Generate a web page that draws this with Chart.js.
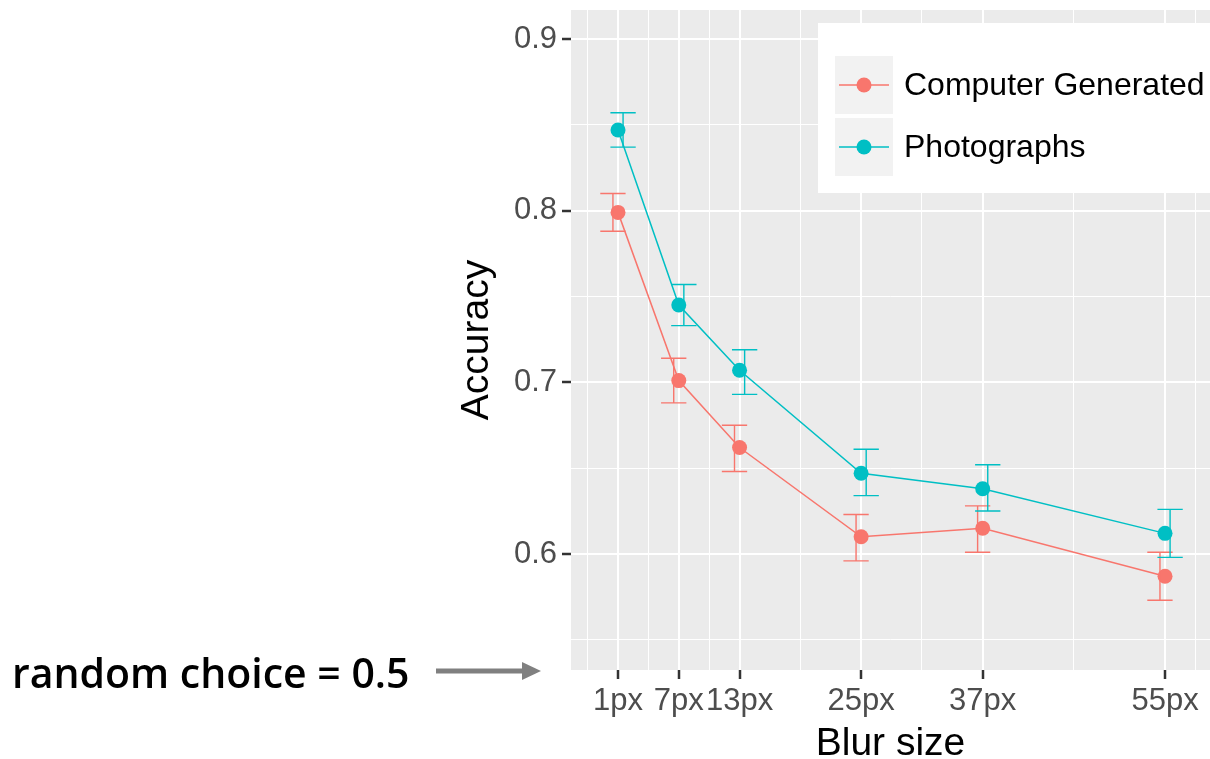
<!DOCTYPE html>
<html>
<head>
<meta charset="utf-8">
<script src="https://cdn.jsdelivr.net/npm/chart.js@4.4.1/dist/chart.umd.min.js"></script>
<style>
  html, body { margin: 0; padding: 0; background: #fff; overflow: hidden; }
  #wrap { position: relative; width: 1210px; height: 759px; }
  #plot { position: absolute; left: 0; top: 0; }
  #note {
    position: absolute; left: 12px; top: 644px;
    font-family: "Open Sans", "Noto Sans", sans-serif; font-weight: 600;
    font-size: 41px; line-height: 56px; color: #000; white-space: nowrap;
  }
  #arrow { position: absolute; left: 430px; top: 658px; }
</style>
</head>
<body>
<div id="wrap">
  <canvas id="plot" width="1210" height="759"></canvas>
  <div id="note">random choice = 0.5</div>
  <svg id="arrow" width="120" height="28">
    <line x1="6" y1="13" x2="94" y2="13" stroke="#808080" stroke-width="5"/>
    <polygon points="92,4 111,13 92,22" fill="#808080"/>
  </svg>
</div>
<script>
// blur sizes (px) on the x axis
var blurSizes = [1, 7, 13, 25, 37, 55];
var xTicks = [1, 7, 13, 25, 37, 55];
var xTickLabels = ['1px', '7px', '13px', '25px', '37px', '55px'];
var xMinor = [-2, 4, 10, 19, 31, 46, 58];
var yTicks = [0.6, 0.7, 0.8, 0.9];
var yMinor = [0.55, 0.65, 0.75, 0.85];

// Computer Generated: mean and error bar limits
var cgMean = [0.799, 0.701, 0.662, 0.610, 0.615, 0.587];
var cgLow = [0.788, 0.688, 0.648, 0.596, 0.601, 0.573];
var cgHigh = [0.810, 0.714, 0.675, 0.623, 0.628, 0.601];

// Photographs: mean and error bar limits
var photoMean = [0.847, 0.745, 0.707, 0.647, 0.638, 0.612];
var photoLow = [0.837, 0.733, 0.693, 0.634, 0.625, 0.598];
var photoHigh = [0.857, 0.757, 0.719, 0.661, 0.652, 0.626];

var RED = '#F8766D';
var TEAL = '#00BFC4';

function points(mean, low, high) {
    return blurSizes.map(function(b, i) {
        return {x: b, y: mean[i], lo: low[i], hi: high[i]};
    });
}

function isIn(list, v) {
    return list.some(function(t) { return Math.abs(t - v) < 1e-6; });
}

// keep the panel exactly where the axes say, no label padding
function noPad(scale) {
    scale.paddingTop = 0;
    scale.paddingBottom = 0;
    scale.paddingLeft = 0;
    scale.paddingRight = 0;
}

Chart.defaults.font.family = "'Liberation Sans', Arial, sans-serif";

// grey panel behind the grid
var panelBg = {
    id: 'panelBg',
    beforeDraw: function(chart) {
        var a = chart.chartArea;
        var ctx = chart.ctx;
        ctx.save();
        ctx.fillStyle = '#EBEBEB';
        ctx.fillRect(a.left, a.top, a.right - a.left, a.bottom - a.top);
        ctx.restore();
    }
};

// dodged error bars from each point's lo / hi
var errorBars = {
    id: 'errorBars',
    afterDatasetsDraw: function(chart) {
        var ctx = chart.ctx;
        var x = chart.scales.x;
        var y = chart.scales.y;
        chart.data.datasets.forEach(function(ds) {
            ctx.save();
            ctx.strokeStyle = ds.borderColor;
            ctx.lineWidth = 1.4;
            ds.data.forEach(function(p) {
                var cx = x.getPixelForValue(p.x + ds.dodge);
                var l = x.getPixelForValue(p.x + ds.dodge - 1.25);
                var r = x.getPixelForValue(p.x + ds.dodge + 1.25);
                var top = y.getPixelForValue(p.hi);
                var bot = y.getPixelForValue(p.lo);
                ctx.beginPath();
                ctx.moveTo(cx, top); ctx.lineTo(cx, bot);
                ctx.moveTo(l, top); ctx.lineTo(r, top);
                ctx.moveTo(l, bot); ctx.lineTo(r, bot);
                ctx.stroke();
            });
            ctx.restore();
        });
    }
};

// ggplot-like legend box inside the panel
var boxLegend = {
    id: 'boxLegend',
    afterDraw: function(chart) {
        var ctx = chart.ctx;
        ctx.save();
        ctx.fillStyle = '#FFFFFF';
        ctx.fillRect(818, 23, 400, 170);
        chart.data.datasets.forEach(function(ds, i) {
            var top = 56 + i * 62;
            var cy = top + 29;
            ctx.fillStyle = '#F2F2F2';
            ctx.fillRect(835, top, 58, 58);
            ctx.strokeStyle = ds.borderColor;
            ctx.lineWidth = 1.5;
            ctx.beginPath();
            ctx.moveTo(839, cy); ctx.lineTo(889, cy);
            ctx.stroke();
            ctx.fillStyle = ds.borderColor;
            ctx.beginPath();
            ctx.arc(864, cy, 7.5, 0, Math.PI * 2);
            ctx.fill();
            ctx.fillStyle = '#000';
            ctx.font = "32px 'Liberation Sans', Arial, sans-serif";
            ctx.textBaseline = 'middle';
            ctx.fillText(ds.label, 904, cy + 1);
        });
        ctx.restore();
    }
};

function gridColor() { return '#FFFFFF'; }

new Chart(document.getElementById('plot'), {
    type: 'line',
    data: {
        datasets: [{
            label: 'Computer Generated',
            data: points(cgMean, cgLow, cgHigh),
            borderColor: RED,
            backgroundColor: RED,
            pointBackgroundColor: RED,
            borderWidth: 1.5,
            pointRadius: 7.5,
            pointBorderWidth: 0,
            dodge: -0.5
        }, {
            label: 'Photographs',
            data: points(photoMean, photoLow, photoHigh),
            borderColor: TEAL,
            backgroundColor: TEAL,
            pointBackgroundColor: TEAL,
            borderWidth: 1.5,
            pointRadius: 7.5,
            pointBorderWidth: 0,
            dodge: 0.5
        }]
    },
    options: {
        responsive: false,
        animation: false,
        devicePixelRatio: 1,
        layout: {autoPadding: false, padding: {left: 460, right: 0, top: 10, bottom: 0}},
        plugins: {legend: {display: false}, tooltip: {enabled: false}},
        scales: {
            x: {
                type: 'linear',
                min: -3.64,
                max: 59.44,
                afterBuildTicks: function(scale) {
                    scale.ticks = xMinor.concat(xTicks).sort(function(a, b) { return a - b; })
                        .map(function(v) { return {value: v}; });
                },
                afterFit: function(scale) { scale.height = 89; noPad(scale); },
                ticks: {
                    autoSkip: false,
                    maxRotation: 0,
                    padding: 4,
                    color: '#4D4D4D',
                    font: {size: 31},
                    callback: function(v) {
                        var i = xTicks.indexOf(v);
                        return i >= 0 ? xTickLabels[i] : '';
                    }
                },
                grid: {
                    color: gridColor,
                    lineWidth: function(c) { return isIn(xTicks, c.tick.value) ? 2 : 1; },
                    tickColor: function(c) { return isIn(xTicks, c.tick.value) ? '#333333' : 'rgba(0,0,0,0)'; },
                    tickWidth: 2.5,
                    tickLength: 9
                },
                border: {display: false},
                title: {
                    display: true,
                    text: 'Blur size',
                    color: '#000',
                    font: {size: 39, lineHeight: 0.75},
                    padding: 0
                }
            },
            y: {
                min: 0.5324,
                max: 0.9169,
                afterBuildTicks: function(scale) {
                    scale.ticks = yMinor.concat(yTicks).sort(function(a, b) { return a - b; })
                        .map(function(v) { return {value: v}; });
                },
                afterFit: function(scale) { scale.width = 111; noPad(scale); },
                ticks: {
                    padding: 5,
                    color: '#4D4D4D',
                    font: {size: 31},
                    callback: function(v) { return isIn(yTicks, v) ? v.toFixed(1) : ''; }
                },
                grid: {
                    color: gridColor,
                    lineWidth: function(c) { return isIn(yTicks, c.tick.value) ? 2 : 1; },
                    tickColor: function(c) { return isIn(yTicks, c.tick.value) ? '#333333' : 'rgba(0,0,0,0)'; },
                    tickWidth: 2.5,
                    tickLength: 9
                },
                border: {display: false},
                title: {
                    display: true,
                    text: 'Accuracy',
                    color: '#000',
                    font: {size: 39, lineHeight: 0.9},
                    padding: 0
                }
            }
        }
    },
    plugins: [panelBg, errorBars, boxLegend]
});
</script>
</body>
</html>
